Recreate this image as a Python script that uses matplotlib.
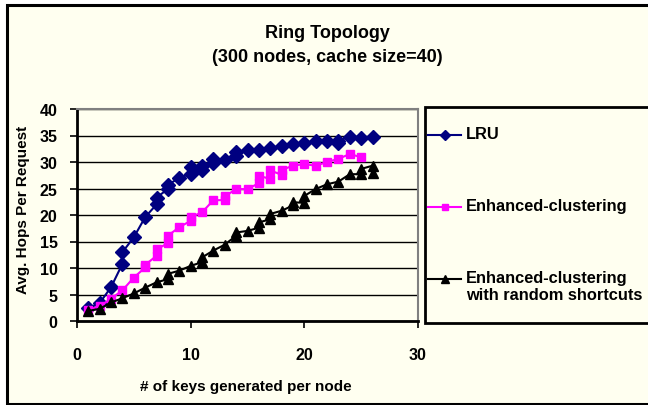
import matplotlib
matplotlib.use("Agg")
from matplotlib import pyplot as plt
from matplotlib.patches import Rectangle
from matplotlib.lines import Line2D

# data (some x values carry two points)
x_lru = [1, 2, 3, 4, 4, 5, 6, 7, 7, 8, 8, 9, 10, 10, 11, 11, 12, 12, 13, 14, 14,
         15, 16, 17, 18, 19, 20, 21, 22, 23, 23, 24, 25, 26]
lru = [2.4, 3.4, 6.4, 10.8, 13.0, 15.8, 19.6, 22.0, 23.3, 24.9, 25.7, 27.0, 27.8, 29.0,
       28.5, 29.3, 29.9, 30.6, 30.4, 31.2, 31.8, 32.2, 32.2, 32.6, 33.1, 33.4, 33.6,
       34.0, 34.0, 33.6, 34.0, 34.8, 34.5, 34.8]

x_enh = [1, 2, 3, 4, 5, 6, 6, 7, 7, 8, 8, 9, 10, 10, 11, 12, 13, 13, 14, 15, 16, 16,
         17, 17, 18, 18, 19, 20, 21, 22, 23, 24, 25]
enh = [2.1, 2.8, 4.2, 5.8, 8.2, 10.1, 10.6, 12.3, 13.5, 14.7, 16.1, 17.7, 18.9, 19.6,
       20.5, 22.8, 22.8, 23.5, 24.9, 24.9, 26.0, 27.4, 26.8, 28.4, 27.6, 28.5, 29.3,
       29.6, 29.3, 30.0, 30.6, 31.5, 30.9]

x_rnd = [1, 2, 3, 4, 5, 6, 7, 8, 8, 9, 10, 11, 11, 12, 13, 14, 14, 15, 16, 16, 17, 17,
         18, 19, 19, 20, 20, 21, 22, 23, 24, 25, 25, 26, 26]
rnd = [1.9, 2.3, 3.5, 4.3, 5.2, 6.3, 7.3, 7.9, 8.9, 9.5, 10.4, 11.1, 12.0, 13.3, 14.4,
       16.1, 16.7, 17.0, 17.6, 18.6, 19.2, 20.2, 20.8, 21.8, 22.4, 22.3, 23.6, 24.9,
       25.8, 26.3, 27.7, 27.7, 28.7, 29.3, 27.9]

labels = ["LRU", "Enhanced-clustering", "Enhanced-clustering\nwith random shortcuts"]
colors = ["#000080", "#FF00FF", "#000000"]
markers = ["D", "s", "^"]
msizes = [7, 6, 7.5]

W, H = 648, 406
cream = "#FFFFF0"
plt.rcParams["font.family"] = ["Liberation Sans", "DejaVu Sans"]
plt.rcParams["font.weight"] = "bold"

fig = plt.figure(figsize=(W / 100, H / 100), dpi=100)
fig.patch.set_facecolor("white")

# overlay in pixel coords for frame and legend
bg = fig.add_axes([0, 0, 1, 1])
bg.set_xlim(0, W)
bg.set_ylim(H, 0)
bg.axis("off")
bg.add_patch(Rectangle((6.5, 5.5), 700, 399.5, facecolor=cream, edgecolor="black", lw=2.2))
bg.add_patch(Rectangle((424.5, 107.5), 300, 216, facecolor=cream, edgecolor="black", lw=2))

ax = fig.add_axes([77 / W, (H - 322) / H, (418 - 77) / W, (322 - 110) / H])
ax.set_facecolor(cream)
series = [(x_lru, lru), (x_enh, enh), (x_rnd, rnd)]
for (xs, ys), c, m, ms in zip(series, colors, markers, msizes):
    ax.plot(xs, ys, color=c, lw=1.5, marker=m, ms=ms, mec=c, mfc=c)

ax.set_xlim(0, 30)
ax.set_ylim(0, 40)
ax.set_xticks([0, 10, 20, 30])
ax.set_yticks(range(0, 41, 5))
ax.yaxis.grid(True, color="black", lw=1)
ax.set_axisbelow(True)
for s in ["left", "bottom"]:
    ax.spines[s].set_linewidth(2)
    ax.spines[s].set_color("black")
for s in ["top", "right"]:
    ax.spines[s].set_linewidth(1.5)
    ax.spines[s].set_color("#808080")
ax.tick_params(axis="y", length=5, width=1.2, pad=9, labelsize=11.5)
ax.tick_params(axis="x", length=5, width=1.2, pad=14, labelsize=11.5)
for t in ax.get_xticklabels() + ax.get_yticklabels():
    t.set_fontweight("bold")

ax.set_xlabel("# of keys generated per node", fontsize=11, fontweight="bold")
ax.xaxis.set_label_coords(246 / W, (H - 380) / H, transform=fig.transFigure)
ax.set_ylabel("Avg. Hops Per Request", fontsize=11, fontweight="bold")
ax.yaxis.set_label_coords(30 / W, (H - 210) / H, transform=fig.transFigure)

bg.text(327, 33, "Ring Topology", ha="center", va="center", fontsize=13, fontweight="bold")
bg.text(327, 58, "(300 nodes, cache size=40)", ha="center", va="center", fontsize=13,
        fontweight="bold")

# legend
rows = [136, 208, 280]
for y, lab, c, m, ms in zip(rows, labels, colors, markers, msizes):
    bg.add_line(Line2D([428, 461], [y, y], color=c, lw=1.5))
    bg.plot([444.5], [y], marker=m, color=c, ms=ms * 0.7, mec=c)
    bg.text(466, y - 9, lab, ha="left", va="top", fontsize=11.8, fontweight="bold",
            linespacing=1.15)

fig.savefig("out.png", dpi=100, facecolor=fig.get_facecolor())
